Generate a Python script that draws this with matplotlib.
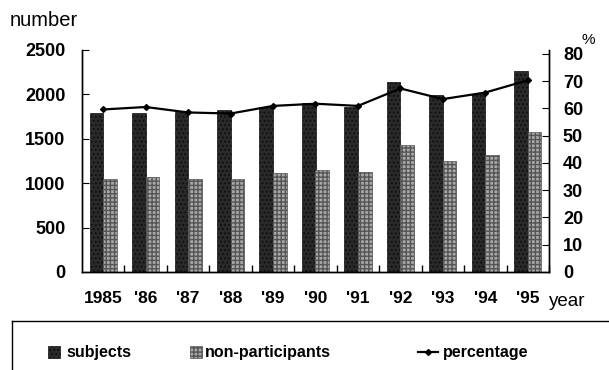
import matplotlib
matplotlib.use("Agg")
import matplotlib.pyplot as plt
from matplotlib.patches import Rectangle
from matplotlib.lines import Line2D
import numpy as np

plt.rcParams['font.family'] = ['Liberation Sans', 'DejaVu Sans']

years = ["1985", "'86", "'87", "'88", "'89", "'90", "'91", "'92", "'93", "'94", "'95"]
subjects = [1790, 1790, 1805, 1824, 1855, 1900, 1862, 2136, 1993, 2000, 2263]
non_participants = [1043, 1073, 1051, 1043, 1118, 1149, 1122, 1430, 1253, 1313, 1580]
percentage = [59.6, 60.5, 58.5, 58.1, 60.9, 61.7, 60.9, 67.3, 63.4, 65.8, 70.3]

W, H = 609, 370
fig = plt.figure(figsize=(W / 100, H / 100), dpi=100)
ax = fig.add_axes([82 / W, 1 - 272 / H, (549 - 82) / W, (272 - 50) / H])
ax2 = ax.twinx()

x = np.arange(len(years))
bw = 0.32
dark = '#2a2a2a'
light = '#a8a8a8'
ax.bar(x - bw / 2, subjects, bw, color=dark, edgecolor='#111111', linewidth=0.5, hatch='....')
ax.bar(x + bw / 2, non_participants, bw, color=light, edgecolor='#555555', linewidth=0.5, hatch='++++')
ax2.plot(x, percentage, color='black', lw=1.6, marker='D', markersize=3)

ax.set_xlim(-0.5, len(years) - 0.5)
ax.set_ylim(0, 2500)
ax.set_yticks([0, 500, 1000, 1500, 2000, 2500])
ax2.set_ylim(0, 81.4)
ax2.set_yticks(range(0, 81, 10))

for a in (ax, ax2):
    a.spines['top'].set_visible(False)
    for s in a.spines.values():
        s.set_linewidth(1.0)

ax.set_xticks(x)
ax.set_xticklabels(years, fontsize=12.5, fontweight='bold')
ax.tick_params(axis='x', length=0, pad=14)
ax.set_xticks(np.arange(-0.5, len(years), 1.0)[1:], minor=True)
ax.tick_params(axis='x', which='minor', direction='in', length=5, width=1)
ax.tick_params(axis='y', direction='in', length=5, pad=12, labelsize=13)
ax2.tick_params(axis='y', direction='in', length=5, pad=10, labelsize=13)
for lab in ax.get_yticklabels() + ax2.get_yticklabels():
    lab.set_fontweight('bold')

fig.text(10 / W, 1 - 20 / H, 'number', fontsize=14.5, va='center', ha='left')
fig.text(582 / W, 1 - 40 / H, '%', fontsize=11, va='center', ha='left')
fig.text(549 / W, 1 - 302 / H, 'year', fontsize=13.5, va='center', ha='left')

# legend frame (only left and top edges visible in the crop)
fig.add_artist(Line2D([12 / W, 12 / W], [0, 1 - 321 / H], transform=fig.transFigure, color='black', lw=1))
fig.add_artist(Line2D([12 / W, 1], [1 - 321 / H, 1 - 321 / H], transform=fig.transFigure, color='black', lw=1))

ly = 1 - 352 / H
sq = 12
fig.add_artist(Rectangle((48 / W, ly - sq / 2 / H), sq / W, sq / H, transform=fig.transFigure,
                         facecolor=dark, edgecolor='#111111', hatch='....', lw=0.5))
fig.text(66 / W, ly, 'subjects', fontsize=11.5, fontweight='bold', va='center', ha='left')
fig.add_artist(Rectangle((190 / W, ly - sq / 2 / H), sq / W, sq / H, transform=fig.transFigure,
                         facecolor=light, edgecolor='#555555', hatch='++++', lw=0.5))
fig.text(205 / W, ly, 'non-participants', fontsize=11.5, fontweight='bold', va='center', ha='left')
fig.add_artist(Line2D([418 / W, 438 / W], [ly, ly], transform=fig.transFigure, color='black', lw=1.6))
fig.add_artist(Line2D([428 / W], [ly], transform=fig.transFigure, color='black', marker='D', markersize=3))
fig.text(443 / W, ly, 'percentage', fontsize=11.5, fontweight='bold', va='center', ha='left')

fig.savefig('out.png', dpi=100)
